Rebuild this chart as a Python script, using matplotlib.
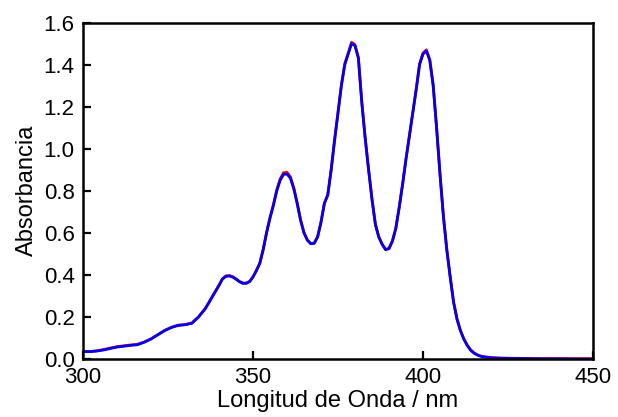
import matplotlib
matplotlib.use("Agg")
import matplotlib.pyplot as plt

plt.rcParams['font.family'] = ['Liberation Sans', 'DejaVu Sans']

# UV-Vis spectrum: wavelength (nm) and absorbance of two runs
wavelength = [300, 302, 304, 306, 308, 310, 312, 314, 316, 318, 320, 322, 324,
              326, 328, 330, 332, 334, 336, 338, 340, 341, 342, 343, 344, 345,
              346, 347, 348, 349, 350, 351, 352, 353, 354, 355, 356, 357, 358,
              359, 360, 361, 362, 363, 364, 365, 366, 367, 368, 369, 370, 371,
              372, 373, 374, 375, 376, 377, 378, 379, 380, 381, 382, 383, 384,
              385, 386, 387, 388, 389, 390, 391, 392, 393, 394, 395, 396, 397,
              398, 399, 400, 401, 402, 403, 404, 405, 406, 407, 408, 409, 410,
              411, 412, 413, 414, 415, 416, 417, 418, 420, 422, 425, 430, 435,
              440, 445, 450]
abs_blue = [0.035, 0.035, 0.038, 0.043, 0.050, 0.057, 0.061, 0.065, 0.068, 0.080,
            0.095, 0.115, 0.135, 0.150, 0.160, 0.163, 0.170, 0.200, 0.240, 0.295,
            0.350, 0.380, 0.393, 0.395, 0.390, 0.380, 0.368, 0.360, 0.360, 0.368,
            0.390, 0.420, 0.455, 0.520, 0.600, 0.670, 0.730, 0.800, 0.850, 0.878,
            0.880, 0.860, 0.810, 0.740, 0.660, 0.600, 0.565, 0.548, 0.550, 0.580,
            0.650, 0.740, 0.780, 0.900, 1.040, 1.170, 1.300, 1.400, 1.450, 1.500,
            1.490, 1.430, 1.220, 1.050, 0.900, 0.760, 0.640, 0.580, 0.545, 0.520,
            0.525, 0.560, 0.620, 0.720, 0.830, 0.950, 1.060, 1.170, 1.280, 1.400,
            1.450, 1.465, 1.420, 1.300, 1.100, 0.880, 0.680, 0.520, 0.390, 0.270,
            0.190, 0.135, 0.095, 0.065, 0.042, 0.028, 0.019, 0.013, 0.010, 0.006,
            0.004, 0.003, 0.002, 0.001, 0.001, 0.000, 0.000]
abs_red = [0.036, 0.036, 0.039, 0.045, 0.052, 0.059, 0.063, 0.067, 0.070, 0.081,
           0.096, 0.116, 0.136, 0.151, 0.161, 0.164, 0.171, 0.201, 0.241, 0.296,
           0.351, 0.381, 0.395, 0.397, 0.392, 0.381, 0.369, 0.361, 0.361, 0.369,
           0.391, 0.421, 0.456, 0.521, 0.602, 0.673, 0.734, 0.805, 0.857, 0.886,
           0.888, 0.866, 0.814, 0.742, 0.661, 0.601, 0.566, 0.549, 0.551, 0.581,
           0.651, 0.741, 0.781, 0.901, 1.042, 1.172, 1.303, 1.404, 1.455, 1.506,
           1.495, 1.434, 1.223, 1.052, 0.901, 0.761, 0.641, 0.581, 0.546, 0.521,
           0.526, 0.561, 0.621, 0.721, 0.831, 0.951, 1.061, 1.172, 1.283, 1.404,
           1.455, 1.470, 1.424, 1.303, 1.102, 0.882, 0.682, 0.522, 0.392, 0.272,
           0.192, 0.137, 0.097, 0.067, 0.044, 0.030, 0.020, 0.014, 0.011, 0.007,
           0.005, 0.004, 0.003, 0.002, 0.002, 0.002, 0.002]

fig = plt.figure(figsize=(6.18, 4.17), dpi=100)
ax = fig.add_axes([0.1343, 0.139, 0.8252, 0.807])

ax.plot(wavelength, abs_red, color='red', lw=2.0)
ax.plot(wavelength, abs_blue, color='#0000ee', lw=2.0)

ax.set_xlim(300, 450)
ax.set_ylim(0, 1.6)
ax.set_xticks([300, 350, 400, 450])
ax.set_yticks([0.0, 0.2, 0.4, 0.6, 0.8, 1.0, 1.2, 1.4, 1.6])
ax.set_yticklabels(['0.0', '0.2', '0.4', '0.6', '0.8', '1.0', '1.2', '1.4', '1.6'])

ax.tick_params(direction='in', length=6, width=1.6, labelsize=16, pad=6,
               top=False, right=False)
for side in ax.spines.values():
    side.set_linewidth(1.8)

ax.set_xlabel('Longitud de Onda / nm', fontsize=17, labelpad=1)
ax.set_ylabel('Absorbancia', fontsize=17, labelpad=4)

fig.savefig('out.png', dpi=100)
